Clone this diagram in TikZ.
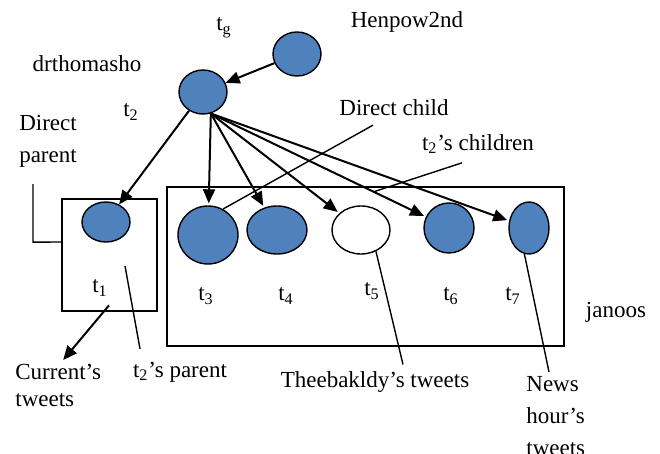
\documentclass[tikz,border=0pt]{standalone}
\usepackage{fontspec}
\setmainfont{Liberation Serif}
\usetikzlibrary{shapes.geometric, arrows.meta, calc}
\definecolor{tweetblue}{RGB}{79,129,189}

\begin{document}
\begin{tikzpicture}[x = .5pt, y = -.5pt,
		every node/.style = {font = \fontsize{11.5}{14}\selectfont},
		tweet/.style = {ellipse, draw, line width = .7pt, fill = tweetblue, inner sep = 0pt},
		arr/.style = {-{Triangle[length = 7pt, width = 6pt]}, line width = 1pt},
		leader/.style = {line width = .7pt}]
			\useasboundingbox (0,0) rectangle (660,454);
			% tweets
			\node[tweet, minimum width = 24pt, minimum height = 22pt] (tg) at (297,54) {};
			\node[tweet, minimum width = 24pt, minimum height = 22pt] (t2) at (203,92) {};
			\node[tweet, minimum width = 24pt, minimum height = 20pt] (t1) at (106,222) {};
			\node[tweet, minimum width = 30pt, minimum height = 29pt] (t3) at (208,235) {};
			\node[tweet, minimum width = 30pt, minimum height = 24pt] (t4) at (277,230) {};
			\node[tweet, fill = white, minimum width = 29pt, minimum height = 24pt] (t5) at (361,230) {};
			\node[tweet, minimum width = 25pt, minimum height = 25pt] (t6) at (449,228) {};
			\node[tweet, minimum width = 20pt, minimum height = 26pt] (t7) at (529,228) {};
			% boxes
			\draw[line width = .9pt] (62,199) rectangle (157,311);
			\draw[line width = .9pt] (167,187) rectangle (564,346);
			% labels
			\node (lg) at (224,28) {t\textsubscript{g}};
			\node (henpow) at (407,22) {Henpow2nd};
			\node (drthomas) at (87,64) {drthomasho};
			\node (l2) at (131,112) {t\textsubscript{2}};
			\node[align = left, font = \fontsize{11.5}{16}\selectfont] (dparent) at (48,141) {Direct\\parent};
			\node (l1) at (100,288) {t\textsubscript{1}};
			\node (l3) at (206,296) {t\textsubscript{3}};
			\node (l4) at (286,296) {t\textsubscript{4}};
			\node (l5) at (372,291) {t\textsubscript{5}};
			\node (l6) at (451,296) {t\textsubscript{6}};
			\node (l7) at (513,296) {t\textsubscript{7}};
			\node (janoos) at (616,312) {janoos};
			\node (dchild) at (394,108) {Direct child};
			\node (children) at (478,144) {t\textsubscript{2}’s children};
			\node (parent) at (180,372) {t\textsubscript{2}’s parent};
			\node[align = left, anchor = north west, inner sep = 0pt, font = \fontsize{11.5}{13.5}\selectfont] (current) at (15,364) {Current’s\\tweets};
			\node (theeb) at (375,382) {Theebakldy’s tweets};
			\node[align = left, anchor = north west, inner sep = 0pt, font = \fontsize{11.5}{16}\selectfont] (news) at (526,376) {News\\hour’s\\tweets};
			% free ends of the leader lines
			\coordinate (childrenend) at (373,192);
			\coordinate (parentend) at (125,266);
			% arrows
			\draw[arr] (tg) -- (t2);
			\draw[arr] (t2) -- (t1);
			\foreach \t in {t3,t4,t5,t6,t7}
			\draw[arr, shorten > = 1pt] (t2.-70) -- (\t);
			\draw[arr] ($(l1.south)+(9,2)$) -- ($(current.north)+(5,-4)$);
			% leader lines
			\draw[leader] ($(dparent.south)+(-15,10)$) -- ++(0,58) -- (62,242);
			\draw[leader] ($(dchild.south)+(-21,2)$) -- (t3.60);
			\draw[leader] ($(children.south)+(-16,2)$) -- (childrenend);
			\draw[leader] ($(parent.north)+(-40,-6)$) -- (parentend);
			\draw[leader] (t5.-55) -- ($(theeb.north)+(28,0)$);
			\draw[leader] (t7.-100) -- ($(news.north west)+(23,-4)$);
		\end{tikzpicture}
\end{document}
